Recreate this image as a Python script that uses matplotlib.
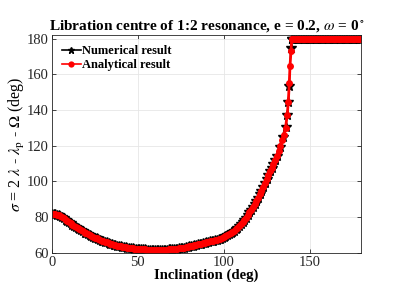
import numpy as np
import matplotlib.pyplot as plt

plt.rcParams['font.family'] = 'Liberation Serif'
plt.rcParams['mathtext.fontset'] = 'stix'

# Libration centre sigma (deg) vs inclination (1 deg steps)
incl_smooth = list(range(0, 131))
sigma_smooth = [
    82.0, 81.9, 81.7, 81.4, 81.0, 80.5, 79.9, 79.3, 78.6, 77.9,
    77.2, 76.5, 75.8, 75.1, 74.4, 73.8, 73.2, 72.6, 72.0, 71.4,
    70.9, 70.4, 69.9, 69.4, 69.0, 68.5, 68.1, 67.7, 67.3, 66.9,
    66.5, 66.2, 65.9, 65.5, 65.2, 64.9, 64.6, 64.4, 64.1, 63.9,
    63.7, 63.5, 63.3, 63.1, 62.9, 62.8, 62.6, 62.5, 62.4, 62.3,
    62.2, 62.1, 62.0, 61.9, 61.9, 61.8, 61.8, 61.8, 61.8, 61.7,
    61.7, 61.7, 61.7, 61.7, 61.7, 61.7, 61.8, 61.8, 61.9, 62.0,
    62.1, 62.2, 62.3, 62.4, 62.5, 62.6, 62.8, 63.0, 63.2, 63.4,
    63.6, 63.8, 64.1, 64.3, 64.5, 64.7, 64.9, 65.1, 65.4, 65.6,
    65.9, 66.1, 66.4, 66.6, 66.8, 67.1, 67.4, 67.7, 68.0, 68.4,
    68.8, 69.3, 69.8, 70.4, 71.0, 71.7, 72.5, 73.3, 74.2, 75.2,
    76.2, 77.3, 78.5, 79.8, 81.2, 82.7, 84.2, 85.8, 87.5, 89.2,
    91.0, 92.9, 94.8, 96.9, 99.0, 101.2, 103.4, 105.6, 107.8, 109.8,
    111.8]

# steep part near the jump
incl_num_jump = [130.9, 132.8, 134.7, 136.1, 137.0, 137.6, 138.2, 139.0, 139.6]
sigma_num_jump = [114.0, 119.5, 125.0, 130.5, 137.3, 144.3, 153.4, 174.5, 180.0]
incl_ana_jump = [131, 132, 133, 134, 135, 136, 137, 137.6, 138.2, 138.6, 139.2, 139.6]
sigma_ana_jump = [114.2, 117.2, 120.0, 123.0, 126.0, 130.0, 137.3, 144.3, 155.0,
                  164.5, 173.0, 180.0]

# plateau after the jump
incl_flat = list(range(140, 181))
sigma_flat = [180.0] * len(incl_flat)

incl_num = incl_smooth + incl_num_jump + incl_flat
sigma_num = sigma_smooth + sigma_num_jump + sigma_flat
incl_ana = incl_smooth + incl_ana_jump + incl_flat
sigma_ana = sigma_smooth + sigma_ana_jump + sigma_flat

fig = plt.figure(figsize=(3.99, 2.90), dpi=100)
ax = fig.add_axes([0.130, 0.128, 0.775, 0.751])

ax.plot(incl_num, sigma_num, color='black', lw=1, marker='*', ms=7,
        label='Numerical result')
ax.plot(incl_ana, sigma_ana, color='red', lw=2, marker='o', ms=5, mew=0,
        label='Analytical result')

ax.set_xlim(0, 180)
ax.set_ylim(60, 182)
ax.set_xticks([0, 50, 100, 150])
ax.set_yticks([60, 80, 100, 120, 140, 160, 180])
ax.grid(True, color='#e6e6e6', lw=0.6)
ax.tick_params(direction='in', top=True, right=True, labelsize=10.5,
               colors='#262626', length=3, width=0.6, pad=2)
for s in ax.spines.values():
    s.set_color('#262626')
    s.set_linewidth(0.6)

ax.set_title(r'Libration centre of 1:2 resonance, e = 0.2, $\omega$ = 0$^\circ$',
             fontsize=11, fontweight='bold', pad=4)
ax.set_xlabel('Inclination (deg)', fontsize=10.6, fontweight='bold', labelpad=0)
ax.set_ylabel(r'$\sigma$ = 2 $\lambda$ - $\lambda_{\rm p}$ - $\Omega$ (deg)',
              fontsize=11.5, labelpad=0)

leg = ax.legend(loc='upper left', frameon=False, prop={'weight': 'bold', 'size': 9},
                handlelength=1.5, handletextpad=0.1, borderaxespad=0.4,
                labelspacing=0.15)
for h in leg.legend_handles:
    h.set_linewidth(1.2)
    h.set_markersize(4.5)

fig.savefig('out.png', dpi=100)
